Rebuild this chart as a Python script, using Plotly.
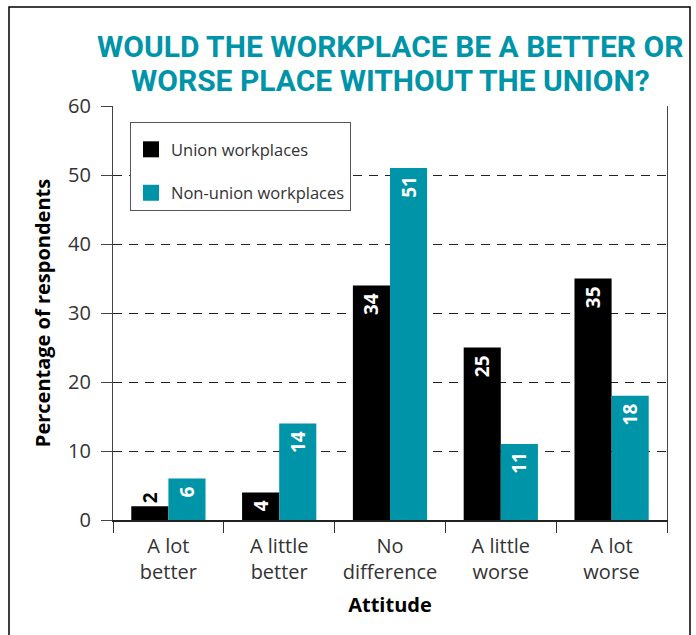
import plotly.graph_objects as go

categories = ["A lot<br>better", "A little<br>better", "No<br>difference", "A little<br>worse", "A lot<br>worse"]
union_vals = [2, 4, 34, 25, 35]
nonunion_vals = [6, 14, 51, 11, 18]
union_name = "Union workplaces"
nonunion_name = "Non-union workplaces"
y_ticks = [0, 10, 20, 30, 40, 50, 60]
title_lines = ["WOULD THE WORKPLACE BE A BETTER OR", "WORSE PLACE WITHOUT THE UNION?"]

TEAL = "#0094a8"
BODY = "Open Sans, Lato, sans-serif"
GREY = "#333333"
NB = "\u00a0"

fig = go.Figure()
fig.add_trace(go.Bar(
    x=categories, y=union_vals, name=union_name, marker=dict(color="black", line_width=0),
    text=[str(v) + NB for v in union_vals], textangle=-90,
    textposition=["outside", "inside", "inside", "inside", "inside"],
    insidetextanchor="end", constraintext="none", cliponaxis=False,
    insidetextfont=dict(color="white", size=19, family=BODY, weight="bold"),
    outsidetextfont=dict(color="black", size=19, family=BODY, weight="bold"),
    showlegend=False,
))
fig.add_trace(go.Bar(
    x=categories, y=nonunion_vals, name=nonunion_name, marker=dict(color=TEAL, line_width=0),
    text=[str(v) + NB for v in nonunion_vals], textangle=-90, textposition="inside",
    insidetextanchor="end", constraintext="none",
    insidetextfont=dict(color="white", size=19, family=BODY, weight="bold"),
    showlegend=False,
))
# legend swatches
for nm, col, grp in [(union_name, "black", "a"), (nonunion_name, TEAL, "b")]:
    fig.add_trace(go.Scatter(
        x=[None], y=[None], mode="markers", name=nm, legendgroup=grp,
        marker=dict(symbol="square", size=16, color=col),
    ))

W, H = 696, 635
ml, mr, mt, mb = 113, 29, 106, 115
pw = W - ml - mr
ph = H - mt - mb

fig.update_layout(
    width=W, height=H,
    margin=dict(l=ml, r=mr, t=mt, b=mb, autoexpand=False),
    paper_bgcolor="white", plot_bgcolor="white",
    barmode="group", bargap=0.33, bargroupgap=0,
    font=dict(family=BODY, color=GREY, size=17),
    legend=dict(
        x=(130 - ml) / pw, y=(520 - 122) / ph, xanchor="left", yanchor="top",
        bgcolor="white", bordercolor="#555555", borderwidth=1,
        font=dict(size=16.5, color=GREY, family=BODY),
        tracegroupgap=19, itemwidth=30,
        title=dict(text=NB, font=dict(size=7)),
    ),
    xaxis=dict(
        showline=True, linecolor="#222222", linewidth=1.5, mirror=False,
        ticks="outside", ticklen=11, tickwidth=1.2, tickcolor="#333333",
        tickson="boundaries", tickfont=dict(size=20, color=GREY), ticklabelstandoff=7,
        title=dict(text="<b>Attitude</b>", font=dict(size=20, color="black"), standoff=14),
        showgrid=False,
    ),
    yaxis=dict(
        range=[0, 60], tickvals=y_ticks,
        showline=True, linecolor="#444444", linewidth=1.2, mirror=True,
        ticks="outside", ticklen=11, tickwidth=1.2, tickcolor="#444444",
        tickfont=dict(size=20, color=GREY), ticklabelstandoff=6,
        showgrid=True, gridcolor="#222222", gridwidth=1, griddash="9px,7px",
        zeroline=False,
        title=dict(text="<b>Percentage of respondents</b>", font=dict(size=20, color="black"), standoff=12),
    ),
)

tfont = dict(family="Roboto, Liberation Sans Narrow, sans-serif", size=30, color=TEAL, weight="bold")
for i, line in enumerate(title_lines):
    fig.add_annotation(text=line, xref="paper", yref="paper", x=0.5, y=(520 - (46 + 35 * i)) / ph,
                       xanchor="center", yanchor="middle", showarrow=False, font=tfont)

# outer frame
fig.add_shape(type="rect", xref="paper", yref="paper",
              x0=(9 - ml) / pw, x1=(690 - ml) / pw, y0=(520 - 660) / ph, y1=(520 - 7) / ph,
              line=dict(color="black", width=1.5), fillcolor="rgba(0,0,0,0)", layer="below")

fig.write_html("out.html", config={"displayModeBar": False},
               post_script="document.body.style.margin='0';")
